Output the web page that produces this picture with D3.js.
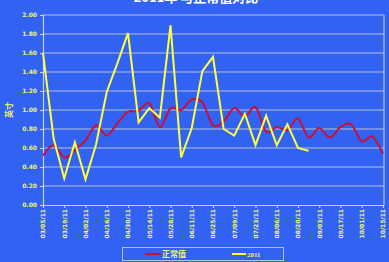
<!DOCTYPE html>
<html>
<head>
<meta charset="utf-8">
<script src="https://cdn.jsdelivr.net/npm/d3@7"></script>
<style>
body { margin: 0; background: #3162f2; }
svg { display: block; }
</style>
</head>
<body>
<svg width="389" height="262"></svg>
<script>
// weekly categories, 03/05/11 .. 10/15/11
var weeks = ['03/05/11','03/12/11','03/19/11','03/26/11','04/02/11','04/09/11','04/16/11','04/23/11',
    '04/30/11','05/07/11','05/14/11','05/21/11','05/28/11','06/04/11','06/11/11','06/18/11',
    '06/25/11','07/02/11','07/09/11','07/16/11','07/23/11','07/30/11','08/06/11','08/13/11',
    '08/20/11','08/27/11','09/03/11','09/10/11','09/17/11','09/24/11','10/01/11','10/08/11','10/15/11'];

var normal = [0.52, 0.63, 0.50, 0.58, 0.68, 0.84, 0.73, 0.86, 0.98, 0.99, 1.07, 0.82, 1.02, 1.00, 1.11, 1.08,
    0.84, 0.88, 1.02, 0.93, 1.03, 0.77, 0.82, 0.79, 0.91, 0.71, 0.81, 0.71, 0.82, 0.85, 0.67, 0.72, 0.54];

var y2011 = [1.60, 0.70, 0.28, 0.66, 0.27, 0.64, 1.19, 1.49, 1.81, 0.87, 1.02, 0.92, 1.89, 0.50, 0.81, 1.41,
    1.56, 0.80, 0.73, 0.96, 0.63, 0.94, 0.63, 0.85, 0.60, 0.57];

var yTicks = [0, 0.2, 0.4, 0.6, 0.8, 1.0, 1.2, 1.4, 1.6, 1.8, 2.0];
var xTickLabels = weeks.filter((d, i) => i % 2 == 0);

const LEFT = 43, RIGHT = 383, TOP = 15, BOTTOM = 205;
const BG = '#3162f2';
const TEXT_COLOR = '#f0f468';

var svg = d3.select('svg');

var xScale = d3.scalePoint().domain(weeks).range([LEFT, RIGHT]);
var yScale = d3.scaleLinear().domain([0, 2]).range([BOTTOM, TOP]);

// title, mostly cut off at the top (as in the original)
svg.append('text')
    .attr('x', 196).attr('y', 2)
    .attr('text-anchor', 'middle')
    .attr('fill', '#ffffff')
    .style('font', 'bold 13px "Noto Sans CJK SC"')
    .text('2011年 与正常值对比');

// gridlines
svg.append('g')
    .selectAll('line')
    .data(yTicks.slice(1))
    .enter()
      .append('line')
      .attr('x1', LEFT).attr('x2', RIGHT + 1)
      .attr('y1', d => yScale(d)).attr('y2', d => yScale(d))
      .attr('stroke', '#b4bfd6').attr('stroke-width', 1.2);

// right border
svg.append('line')
    .attr('x1', RIGHT + 1).attr('x2', RIGHT + 1)
    .attr('y1', TOP).attr('y2', BOTTOM)
    .attr('stroke', '#b4bfd6').attr('stroke-width', 1.2);

var yAxis = d3.axisLeft(yScale)
    .tickValues(yTicks)
    .tickFormat(d3.format('.2f'))
    .tickSize(3)
    .tickPadding(3);
var yg = svg.append('g')
    .attr('transform', 'translate(' + LEFT + ',0)')
    .call(yAxis);

var xAxis = d3.axisBottom(xScale)
    .tickValues(xTickLabels)
    .tickSize(3)
    .tickSizeOuter(0);
var xg = svg.append('g')
    .attr('transform', 'translate(0,' + BOTTOM + ')')
    .call(xAxis);
xg.selectAll('text')
    .attr('transform', 'rotate(-90)')
    .attr('x', -4).attr('y', 0).attr('dy', '0.32em')
    .attr('text-anchor', 'end');

[yg, xg].forEach(function(g) {
    g.selectAll('path, line').attr('stroke', '#c8d0e0').attr('stroke-width', 1.2);
    g.selectAll('text')
        .attr('fill', TEXT_COLOR)
        .style('font', 'bold 6px "DejaVu Sans"');
});

// y axis title
svg.append('text')
    .attr('transform', 'translate(12,110) rotate(-90)')
    .attr('text-anchor', 'middle')
    .attr('fill', TEXT_COLOR)
    .style('font', 'bold 8px "Noto Sans CJK SC"')
    .text('英寸');

// series
var redLine = d3.line()
    .x((d, i) => xScale(weeks[i]))
    .y(d => yScale(d))
    .curve(d3.curveCardinal.tension(0));
svg.append('path')
    .datum(normal)
    .attr('d', redLine)
    .attr('fill', 'none')
    .attr('stroke', '#c8103c')
    .attr('stroke-width', 2);

var yellowLine = d3.line()
    .x((d, i) => xScale(weeks[i]))
    .y(d => yScale(d));
svg.append('path')
    .datum(y2011)
    .attr('d', yellowLine)
    .attr('fill', 'none')
    .attr('stroke', '#ffff40')
    .attr('stroke-width', 2);

// legend
var legend = svg.append('g');
legend.append('rect')
    .attr('x', 122.5).attr('y', 247.5)
    .attr('width', 161).attr('height', 13)
    .attr('fill', BG)
    .attr('stroke', '#b4bfd6');
legend.append('line')
    .attr('x1', 145).attr('x2', 161).attr('y1', 254).attr('y2', 254)
    .attr('stroke', '#c8103c').attr('stroke-width', 2);
legend.append('text')
    .attr('x', 162).attr('y', 257)
    .attr('fill', TEXT_COLOR)
    .style('font', 'bold 8px "Noto Sans CJK SC"')
    .text('正常值');
legend.append('line')
    .attr('x1', 232).attr('x2', 246).attr('y1', 254).attr('y2', 254)
    .attr('stroke', '#ffff40').attr('stroke-width', 2);
legend.append('text')
    .attr('x', 247).attr('y', 257)
    .attr('fill', TEXT_COLOR)
    .style('font', 'bold 7px "Liberation Serif"')
    .text('2011');
</script>
</body>
</html>
